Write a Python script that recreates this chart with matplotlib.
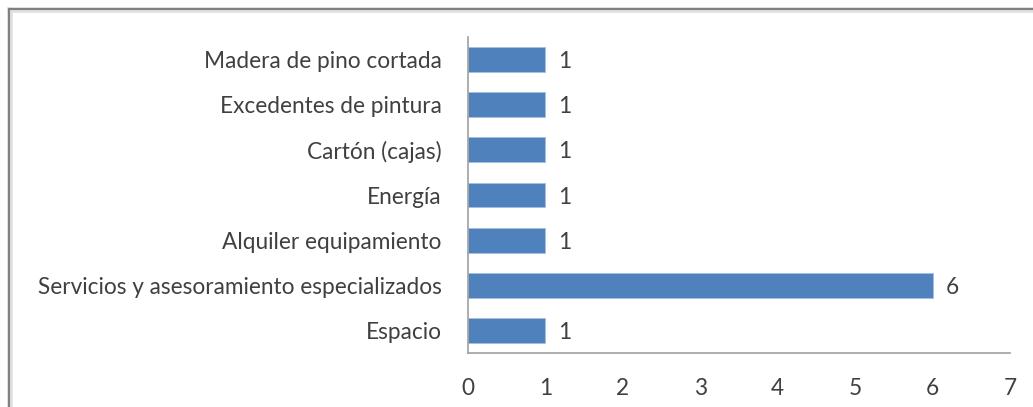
import matplotlib
matplotlib.use("Agg")
import matplotlib.pyplot as plt
from matplotlib.lines import Line2D

categories = ["Espacio", "Servicios y asesoramiento especializados", "Alquiler equipamiento",
              "Energía", "Cartón (cajas)", "Excedentes de pintura", "Madera de pino cortada"]
values = [1, 6, 1, 1, 1, 1, 1]
xticks = [0, 1, 2, 3, 4, 5, 6, 7]

plt.rcParams['font.family'] = ['Lato', 'DejaVu Sans']
txt = '#404040'
fs = 16.3

fig = plt.figure(figsize=(10.33, 4.07), dpi=100)
ax = fig.add_axes([468/1033, 1-353/407, (1010-468)/1033, (353-37)/407])

y = list(range(len(categories)))
ax.barh(y, values, height=0.55, color='#4F81BD', edgecolor='#A7BFDE', linewidth=0.6)
for yi, v in zip(y, values):
    ax.text(v + 0.17, yi, str(v), va='center_baseline', ha='left', fontsize=fs, color=txt)

ax.set_xlim(0, 7)
ax.set_ylim(-0.5, len(categories) - 0.5)
ax.set_xticks(xticks)
ax.set_xticklabels([str(t) for t in xticks])
ax.set_yticks(y)
ax.set_yticklabels(categories)
ax.tick_params(axis='y', length=0, pad=19, labelsize=fs, labelcolor=txt)
ax.tick_params(axis='x', length=0, pad=18, labelsize=fs, labelcolor=txt)
for s in ['top', 'right']:
    ax.spines[s].set_visible(False)
for s in ['left', 'bottom']:
    ax.spines[s].set_color('#A0A0A0')
    ax.spines[s].set_linewidth(1.2)

# outer chart frame (partially visible)
fig.add_artist(Line2D([10/1033, 1], [1-10/407, 1-10/407], transform=fig.transFigure, color='#E0E0E0', lw=4))
fig.add_artist(Line2D([10/1033, 10/1033], [0, 1-10/407], transform=fig.transFigure, color='#E0E0E0', lw=4))
fig.add_artist(Line2D([10/1033, 1], [1-9/407, 1-9/407], transform=fig.transFigure, color='#808080', lw=1.5))
fig.add_artist(Line2D([9/1033, 9/1033], [0, 1-9/407], transform=fig.transFigure, color='#808080', lw=1.5))

fig.savefig("out.png", dpi=100)
